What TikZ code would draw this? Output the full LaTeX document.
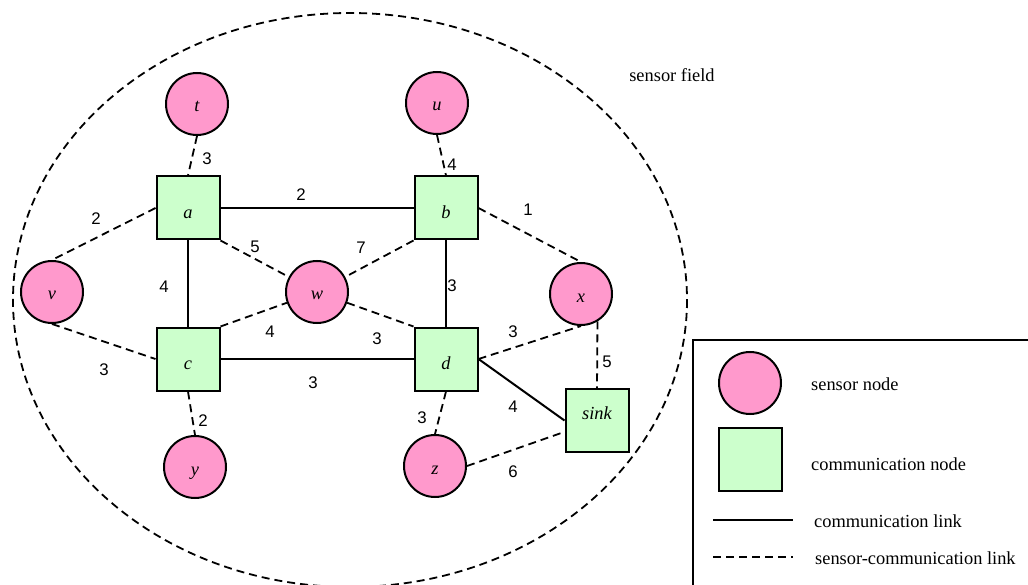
\documentclass[tikz,border=0pt]{standalone}
\usepackage{fontspec}
\setmainfont{Liberation Serif}
\newfontfamily\numfont{Liberation Sans}

\definecolor{sensorpink}{RGB}{255,153,204}
\definecolor{commgreen}{RGB}{204,255,204}

\tikzset{
  sensornode/.style={circle, draw, line width=2pt, fill=sensorpink,
    minimum size=62pt, inner sep=0pt,
    font=\fontsize{18.4}{20}\selectfont\itshape, text height=16pt, text depth=0pt},
  commnode/.style={rectangle, draw, line width=2pt, fill=commgreen,
    minimum size=63pt, inner sep=0pt,
    font=\fontsize{18.4}{20}\selectfont\itshape, text height=21pt, text depth=0pt},
  clink/.style={line width=2pt},
  slink/.style={line width=1.8pt, dash pattern=on 8pt off 5pt},
  wt/.style={font=\numfont\fontsize{16.8}{18}\selectfont, inner sep=0pt},
  lbl/.style={font=\fontsize{18.4}{20}\selectfont, inner sep=0pt},
}

\begin{document}
\begin{tikzpicture}[x=1pt,y=-1pt]
\useasboundingbox (0,0) rectangle (1028,585);
\clip (0,0) rectangle (1028,585);

% sensor field boundary
\draw[slink] (350,300) ellipse [x radius=337, y radius=287];
\node[lbl] (fieldlabel) at (672,75) {sensor field};

% communication nodes
\node[commnode] (a) at (188,208) {a};
\node[commnode] (b) at (446,208) {b};
\node[commnode] (c) at (188,359) {c};
\node[commnode] (d) at (446,359) {d};
\node[commnode, text height=0pt, text depth=2pt] (sink) at (597,420.5) {sink};

% sensor nodes
\node[sensornode] (t) at (197,104) {t};
\node[sensornode] (u) at (437,103) {u};
\node[sensornode] (v) at (52,292) {v};
\node[sensornode] (w) at (317,292) {w};
\node[sensornode] (x) at (581,294) {x};
\node[sensornode] (y) at (195,467) {y};
\node[sensornode] (z) at (435,466) {z};

% communication links
\draw[clink] (a.east) -- (b.west);
\draw[clink] (a.south) -- (c.north);
\draw[clink] (b.south) -- (d.north);
\draw[clink] (c.east) -- (d.west);
\draw[clink] (d.east) -- (sink.west);

% sensor-communication links
\draw[slink] (t.south) -- (a.north);
\draw[slink] (u.south) -- (b.north);
\draw[slink] (a.west) -- (v.north);
\draw[slink] (v.south) -- (c.west);
\draw[slink] (a.south east) -- (w);
\draw[slink] (b.south west) -- (w);
\draw[slink] (c.north east) -- (w);
\draw[slink] (w) -- (d.north west);
\draw[slink] (b.east) -- (x.north);
\draw[slink] (d.east) -- (x.south);
\draw[slink] (x.-59) -- (sink.north);
\draw[slink] (c.south) -- (y.north);
\draw[slink] (d.south) -- (z.north);
\draw[slink] (z.east) -- (sink);

% link weights
\node[wt] (wta) at (207,159) {3};
\node[wt] (wub) at (452,165) {4};
\node[wt] (wab) at (301,195) {2};
\node[wt] (wbx) at (528,210) {1};
\node[wt] (wav) at (96,219) {2};
\node[wt] (waw) at (255,247) {5};
\node[wt] (wbw) at (361,248) {7};
\node[wt] (wac) at (164,287) {4};
\node[wt] (wbd) at (452,286) {3};
\node[wt] (wcw) at (270,332) {4};
\node[wt] (wwd) at (377,339) {3};
\node[wt] (wdx) at (513,332) {3};
\node[wt] (wxs) at (607,362) {5};
\node[wt] (wvc) at (104,370) {3};
\node[wt] (wcd) at (313,383) {3};
\node[wt] (wcy) at (203,421) {2};
\node[wt] (wdz) at (422,418) {3};
\node[wt] (wds) at (513,407) {4};
\node[wt] (wzs) at (513,472) {6};

% legend
\node[draw, line width=2pt, minimum width=420, minimum height=300,
      anchor=north west, inner sep=0pt] (legend) at (692,339) {};
\node[sensornode] (lsensor) at (750,383) {};
\node[lbl, anchor=west] (lsensortext) at (811,384) {sensor node};
\node[commnode] (lcomm) at (750.5,459) {};
\node[lbl, anchor=west] (lcommtext) at (811,464) {communication node};
\coordinate (cl1) at (713,520);
\coordinate (cl2) at (793,520);
\draw[clink] (cl1) -- (cl2);
\node[lbl, anchor=west] (lclinktext) at (814,521) {communication link};
\coordinate (sl1) at (713,557);
\coordinate (sl2) at (793,557);
\draw[slink] (sl1) -- (sl2);
\node[lbl, anchor=west] (lslinktext) at (815,558) {sensor-communication link};
\end{tikzpicture}
\end{document}
